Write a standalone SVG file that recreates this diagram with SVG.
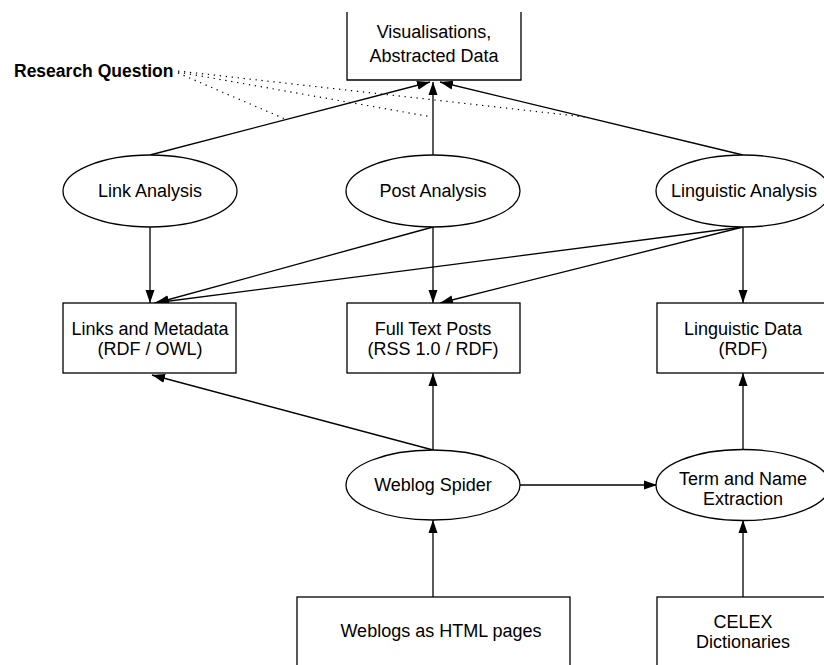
<svg xmlns="http://www.w3.org/2000/svg" width="824" height="665" viewBox="0 0 824 665">
<style>
.box{fill:#fff;stroke:#000;stroke-width:1.3}
.ell{fill:#fff;stroke:#000;stroke-width:1.3}
.t{font-family:"Liberation Sans",Arial,Helvetica,sans-serif;font-size:18px;fill:#000;text-anchor:middle}
.rq{font-family:"Liberation Sans",Arial,Helvetica,sans-serif;font-size:17.5px;font-weight:bold;fill:#000}
.c{stroke:#000;stroke-width:1.3;fill:none;marker-end:url(#ah)}
.d{stroke:#000;stroke-width:1.2;fill:none;stroke-dasharray:1.3 4.7}
</style>
<defs>
<marker id="ah" markerUnits="userSpaceOnUse" markerWidth="14" markerHeight="10" refX="13" refY="5" orient="auto">
<path d="M0,0.5 L13,5 L0,9.5 Z" fill="#000"/>
</marker>
</defs>
<rect width="824" height="665" fill="#fff"/>
<g id="connectors">
<line class="c" x1="150" y1="155" x2="430" y2="82"/>
<line class="c" x1="433" y1="155" x2="433" y2="82"/>
<line class="c" x1="743" y1="155" x2="440" y2="82"/>
<line class="c" x1="150" y1="227" x2="150" y2="303"/>
<line class="c" x1="433" y1="227" x2="156" y2="303"/>
<line class="c" x1="433" y1="227" x2="433" y2="303"/>
<line class="c" x1="743" y1="227" x2="154" y2="303"/>
<line class="c" x1="743" y1="227" x2="440" y2="303"/>
<line class="c" x1="743" y1="227" x2="743" y2="303"/>
<line class="c" x1="433" y1="450" x2="433" y2="373"/>
<line class="c" x1="433" y1="450" x2="152" y2="375"/>
<line class="c" x1="520" y1="485" x2="657" y2="485"/>
<line class="c" x1="743" y1="449" x2="743" y2="373"/>
<line class="c" x1="433" y1="597" x2="433" y2="520"/>
<line class="c" x1="743" y1="597" x2="743" y2="520"/>
<line class="d" x1="178" y1="73" x2="285" y2="119"/>
<line class="d" x1="178" y1="72" x2="432" y2="117"/>
<line class="d" x1="178" y1="71" x2="585" y2="117"/>
</g>
<g id="visualisations">
<path class="box" d="M347,12 V80 H521 V12"/>
<text class="t" x="434" y="38">Visualisations,</text>
<text class="t" x="434" y="62">Abstracted Data</text>
</g>
<g id="research-question">
<text class="rq" x="14" y="77">Research Question</text>
</g>
<g id="link-analysis">
<ellipse class="ell" cx="150" cy="191" rx="87" ry="36"/>
<text class="t" x="150" y="197">Link Analysis</text>
</g>
<g id="post-analysis">
<ellipse class="ell" cx="433" cy="191" rx="87" ry="36"/>
<text class="t" x="433" y="197">Post Analysis</text>
</g>
<g id="linguistic-analysis">
<ellipse class="ell" cx="743" cy="191" rx="87" ry="36"/>
<text class="t" x="744" y="197">Linguistic Analysis</text>
</g>
<g id="links-metadata">
<rect class="box" x="63" y="303" width="173" height="70"/>
<text class="t" x="150" y="335">Links and Metadata</text>
<text class="t" x="150" y="355">(RDF / OWL)</text>
</g>
<g id="full-text-posts">
<rect class="box" x="347" y="303" width="173" height="70"/>
<text class="t" x="433" y="335">Full Text Posts</text>
<text class="t" x="433" y="355">(RSS 1.0 / RDF)</text>
</g>
<g id="linguistic-data">
<rect class="box" x="657" y="303" width="173" height="70"/>
<text class="t" x="743" y="335">Linguistic Data</text>
<text class="t" x="743" y="355">(RDF)</text>
</g>
<g id="weblog-spider">
<ellipse class="ell" cx="433" cy="485" rx="87" ry="35"/>
<text class="t" x="433" y="491">Weblog Spider</text>
</g>
<g id="term-extraction">
<ellipse class="ell" cx="743" cy="485" rx="87" ry="35.5"/>
<text class="t" x="743" y="485">Term and Name</text>
<text class="t" x="743" y="505">Extraction</text>
</g>
<g id="weblogs-html">
<rect class="box" x="297" y="597" width="273" height="80"/>
<text class="t" x="441" y="637">Weblogs as HTML pages</text>
</g>
<g id="celex">
<rect class="box" x="657" y="597" width="173" height="80"/>
<text class="t" x="743" y="628">CELEX</text>
<text class="t" x="743" y="648">Dictionaries</text>
</g>
</svg>
